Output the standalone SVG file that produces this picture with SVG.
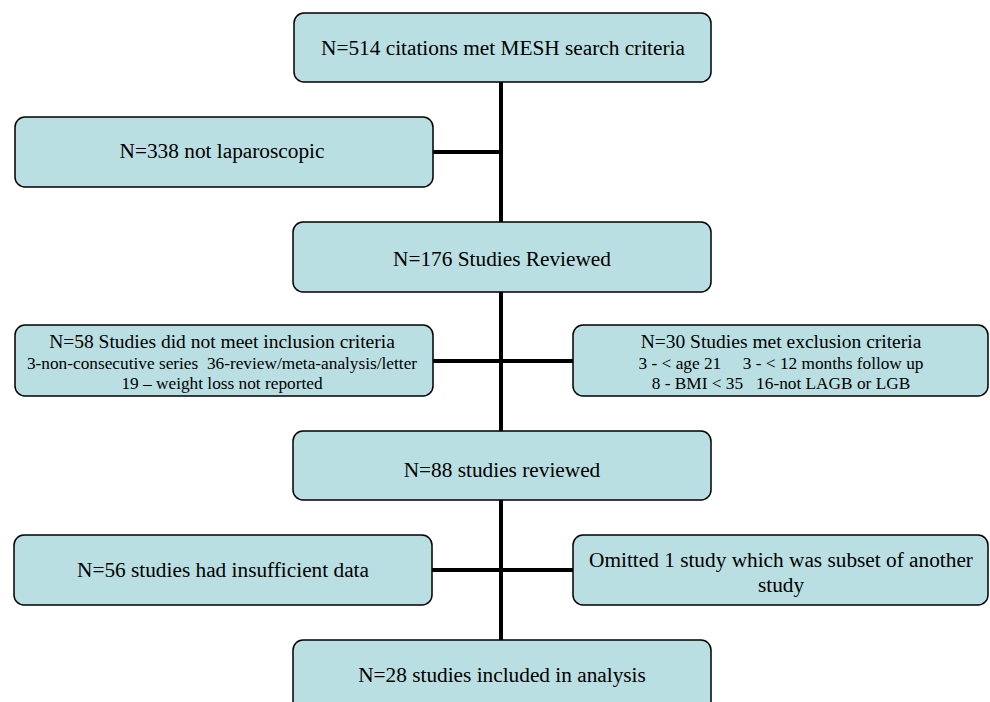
<svg xmlns="http://www.w3.org/2000/svg" width="990" height="702" viewBox="0 0 990 702">
<style>
.box{fill:#b9dfe2;stroke:#000;stroke-width:1.5}
.ln{stroke:#000;stroke-width:4;fill:none}
text{font-family:"Liberation Serif","Times New Roman",serif;fill:#000;text-anchor:middle}
.t{font-size:21.3px}
.s1{font-size:19.5px}
.s2{font-size:17.3px}
</style>
<rect width="990" height="702" fill="#fff"/>
<g id="connectors">
<line class="ln" x1="501" y1="82" x2="501" y2="640"/>
<line class="ln" x1="433" y1="152" x2="501" y2="152"/>
<line class="ln" x1="433" y1="361" x2="573" y2="361"/>
<line class="ln" x1="432" y1="570" x2="573" y2="570"/>
</g>
<g id="n1"><rect class="box" x="294" y="13" width="417" height="69" rx="10"/><text class="t" x="503" y="55">N=514 citations met MESH search criteria</text></g>
<g id="n2"><rect class="box" x="15" y="117" width="418" height="70" rx="10"/><text class="t" x="222" y="158">N=338 not laparoscopic</text></g>
<g id="n3"><rect class="box" x="293" y="222" width="418" height="70" rx="10"/><text class="t" x="502" y="266">N=176 Studies Reviewed</text></g>
<g id="n4"><rect class="box" x="15" y="325" width="418" height="71" rx="10"/>
<text class="s1" x="222" y="348">N=58 Studies did not meet inclusion criteria</text>
<text class="s2" x="222" y="369" xml:space="preserve">3-non-consecutive series  36-review/meta-analysis/letter</text>
<text class="s2" x="222" y="389">19 – weight loss not reported</text></g>
<g id="n5"><rect class="box" x="573" y="325" width="415" height="71" rx="10"/>
<text class="s1" x="781" y="348">N=30 Studies met exclusion criteria</text>
<text class="s2" x="781" y="369" xml:space="preserve">3 - &lt; age 21     3 - &lt; 12 months follow up</text>
<text class="s2" x="781" y="389" xml:space="preserve">8 - BMI &lt; 35   16-not LAGB or LGB</text></g>
<g id="n6"><rect class="box" x="293" y="431" width="418" height="69" rx="10"/><text class="t" x="502" y="477">N=88 studies reviewed</text></g>
<g id="n7"><rect class="box" x="14" y="535" width="418" height="70" rx="10"/><text class="t" x="223" y="577">N=56 studies had insufficient data</text></g>
<g id="n8"><rect class="box" x="573" y="535" width="415" height="70" rx="10"/><text class="t" x="781" y="567">Omitted 1 study which was subset of another</text><text class="t" x="781" y="592">study</text></g>
<g id="n9"><rect class="box" x="293" y="640" width="418" height="75" rx="10"/><text class="t" x="502" y="682">N=28 studies included in analysis</text></g>
</svg>
